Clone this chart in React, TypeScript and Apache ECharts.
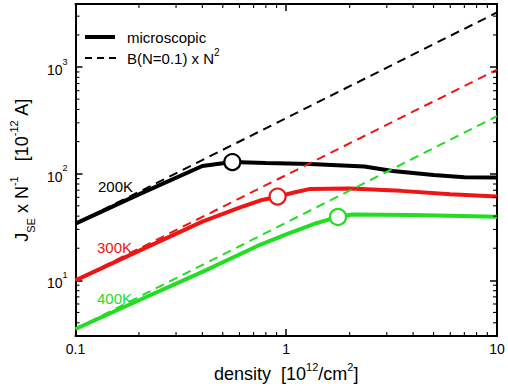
import React, { useEffect, useRef } from 'react';
import * as echarts from 'echarts';

// ---- axis ranges & ticks ----
const X_MIN = 0.1;
const X_MAX = 10;
const Y_MIN = 3;
const Y_MAX = 3900;
const X_MINOR = [0.2, 0.3, 0.4, 0.5, 0.6, 0.7, 0.8, 0.9, 2, 3, 4, 5, 6, 7, 8, 9];
const Y_MINOR = [4, 5, 6, 7, 8, 9, 20, 30, 40, 50, 60, 70, 80, 90, 200, 300, 400, 500, 600, 700, 800, 900, 2000, 3000];

// ---- microscopic curves (solid) ----
const density200 = [0.1, 0.2, 0.4, 0.555, 0.8, 1.3, 2.35, 3.2, 5, 7, 10];
const micro200 = [34, 64, 118, 128.5, 126, 123, 117, 106, 97, 92.5, 92];

const density300 = [0.1, 0.2, 0.4, 0.6, 0.75, 0.91, 1.1, 1.3, 2.0, 3.5, 6, 10];
const micro300 = [10, 18.9, 35.5, 48, 56, 61, 67, 72, 72.5, 69, 64, 61];

const density400 = [0.1, 0.2, 0.4, 0.73, 1.0, 1.4, 1.76, 2.05, 4, 10];
const micro400 = [3.5, 6.5, 12, 21, 27, 34.5, 39.3, 41.5, 41, 39.5];

// ---- B(N=0.1) x N^2 reference lines (dashed), end points ----
const bDensity = [0.1, 10];
const b200 = [34, 3250];
const b300 = [10, 944];
const b400 = [3.5, 346];

// ---- circle markers ----
const markDensity = [0.555, 0.91, 1.76];
const markValue = [128.5, 61, 39.3];

const temps = ['200K', '300K', '400K'];
const COLORS = ['#000000', '#ee1515', '#22dd22'];
const FONT = '"Liberation Sans", Arial, Helvetica, sans-serif';

const zip = (xs: number[], ys: number[]) => xs.map((x, i) => [x, ys[i]]);

const isPow10 = (v: number) => {
  const l = Math.log10(v);
  return Math.abs(l - Math.round(l)) < 1e-6;
};

export default function App() {
  const ref = useRef<HTMLDivElement>(null);
  useEffect(() => {
    const chart = echarts.init(ref.current!, null, { renderer: 'svg' });

    const solid = [zip(density200, micro200), zip(density300, micro300), zip(density400, micro400)];
    const dashed = [zip(bDensity, b200), zip(bDensity, b300), zip(bDensity, b400)];

    const axisLine = { show: true, onZero: false, lineStyle: { color: '#000', width: 2 } };
    const majorTick = { show: true, inside: true, length: 7, lineStyle: { color: '#000', width: 1.5 } };

    const series: any[] = [];
    solid.forEach((d, i) => {
      series.push({
        type: 'line', name: 'microscopic ' + temps[i], data: d, showSymbol: false, symbol: 'none',
        lineStyle: { color: COLORS[i], width: 4 }, z: 3, silent: true,
      });
    });
    dashed.forEach((d, i) => {
      series.push({
        type: 'line', name: 'B ' + temps[i], data: d, showSymbol: false, symbol: 'none',
        lineStyle: { color: COLORS[i], width: 2, type: [9, 6] }, z: 4, silent: true,
      });
    });
    series.push({
      type: 'scatter',
      data: markDensity.map((x, i) => ({
        value: [x, markValue[i]],
        itemStyle: { color: '#fff', borderColor: COLORS[i], borderWidth: 2.2, opacity: 1 },
      })),
      symbol: 'circle', symbolSize: 16, z: 5, silent: true,
    });
    const minorW = 1.1;
    const minorL = 4;
    series.push({
      type: 'custom', silent: true, z: 6,
      data: X_MINOR.map((v) => [v, Y_MIN]),
      renderItem: (_p: any, api: any) => {
        const v = api.value(0);
        const b = api.coord([v, Y_MIN]);
        const t = api.coord([v, Y_MAX]);
        return {
          type: 'group',
          children: [
            { type: 'line', shape: { x1: b[0], y1: b[1], x2: b[0], y2: b[1] - minorL }, style: { stroke: '#000', lineWidth: minorW } },
            { type: 'line', shape: { x1: t[0], y1: t[1], x2: t[0], y2: t[1] + minorL }, style: { stroke: '#000', lineWidth: minorW } },
          ],
        };
      },
    });
    series.push({
      type: 'custom', silent: true, z: 6,
      data: Y_MINOR.map((v) => [X_MIN, v]),
      renderItem: (_p: any, api: any) => {
        const v = api.value(1);
        const l = api.coord([X_MIN, v]);
        const r = api.coord([X_MAX, v]);
        return {
          type: 'group',
          children: [
            { type: 'line', shape: { x1: l[0], y1: l[1], x2: l[0] + minorL, y2: l[1] }, style: { stroke: '#000', lineWidth: minorW } },
            { type: 'line', shape: { x1: r[0], y1: r[1], x2: r[0] - minorL, y2: r[1] }, style: { stroke: '#000', lineWidth: minorW } },
          ],
        };
      },
    });

    const option: any = {
      animation: false,
      backgroundColor: '#fff',
      textStyle: { fontFamily: FONT },
      grid: { left: 63, right: 11, top: 4, bottom: 48, containLabel: false },
      xAxis: [
        {
          type: 'log', logBase: 10, min: X_MIN, max: X_MAX, position: 'bottom',
          axisLine, axisTick: majorTick, splitLine: { show: false },
          axisLabel: {
            color: '#000', fontSize: 14, fontFamily: FONT, margin: 6,
            formatter: (v: number) => {
              if (!isPow10(v)) return '';
              const e = Math.round(Math.log10(v));
              return e < 0 ? Math.pow(10, e).toFixed(-e) : String(Math.pow(10, e));
            },
          },
          name: 'density  [10{sup|12}/cm{sup|2}]',
          nameLocation: 'middle', nameGap: 16,
          nameTextStyle: {
            color: '#000', fontFamily: FONT,
            rich: {
              sup: { fontSize: 11, lineHeight: 12, verticalAlign: 'top', color: '#000', fontFamily: FONT },
            },
            fontSize: 18, lineHeight: 26,
          },
        },
        {
          type: 'log', logBase: 10, min: X_MIN, max: X_MAX, position: 'top',
          axisLine, axisTick: majorTick, splitLine: { show: false }, axisLabel: { show: false },
        },
      ],
      yAxis: [
        {
          type: 'log', logBase: 10, min: Y_MIN, max: Y_MAX, position: 'left',
          axisLine, axisTick: majorTick, splitLine: { show: false },
          axisLabel: {
            color: '#000', fontSize: 14, fontFamily: FONT, margin: 8,
            formatter: (v: number) => {
              if (!isPow10(v)) return '';
              const e = Math.round(Math.log10(v));
              return '{b|10}{s|' + e + '}';
            },
            rich: {
              b: { fontSize: 14, lineHeight: 20, verticalAlign: 'bottom', color: '#000', fontFamily: FONT },
              s: { fontSize: 9, lineHeight: 10, verticalAlign: 'top', color: '#000', fontFamily: FONT },
            },
          },
          name: 'J{sub|SE} x N{sup|-1}   [10{sup|-12} A]',
          nameLocation: 'middle', nameGap: 36, nameRotate: 90,
          nameTextStyle: {
            color: '#000', fontFamily: FONT, fontSize: 18, lineHeight: 28,
            rich: {
              sup: { fontSize: 11, lineHeight: 12, verticalAlign: 'top', color: '#000', fontFamily: FONT },
              sub: { fontSize: 11, lineHeight: 12, verticalAlign: 'bottom', color: '#000', fontFamily: FONT },
            },
          },
        },
        {
          type: 'log', logBase: 10, min: Y_MIN, max: Y_MAX, position: 'right',
          axisLine, axisTick: majorTick, splitLine: { show: false }, axisLabel: { show: false },
        },
      ],
      graphic: [
        { type: 'line', shape: { x1: 85, y1: 37, x2: 115, y2: 37 }, style: { stroke: '#000', lineWidth: 4 } },
        { type: 'line', shape: { x1: 85, y1: 58, x2: 116, y2: 58 }, style: { stroke: '#000', lineWidth: 1.8, lineDash: [7, 5] } },
        { type: 'text', x: 127, y: 37, style: { text: 'microscopic', fill: '#000', font: '15px ' + FONT, verticalAlign: 'middle' } },
        {
          type: 'text', x: 127, y: 58,
          style: {
            text: 'B(N=0.1) x N{s|2}', fill: '#000', font: '15px ' + FONT, verticalAlign: 'middle',
            rich: {
              s: { fontSize: 10, lineHeight: 10, verticalAlign: 'top', fill: '#000', fontFamily: FONT },
            },
            lineHeight: 22,
          },
        },
        { type: 'text', x: 98, y: 186, style: { text: temps[0], fill: COLORS[0], font: '15px ' + FONT, verticalAlign: 'middle' } },
        { type: 'text', x: 97, y: 247, style: { text: temps[1], fill: COLORS[1], font: '15px ' + FONT, verticalAlign: 'middle' } },
        { type: 'text', x: 97, y: 298, style: { text: temps[2], fill: COLORS[2], font: '15px ' + FONT, verticalAlign: 'middle' } },
      ],
      series,
    };
    chart.setOption(option);
    return () => chart.dispose();
  }, []);
  return <div ref={ref} style={{ position: 'absolute', left: 0, top: 0, width: 508, height: 392 }} />;
}
